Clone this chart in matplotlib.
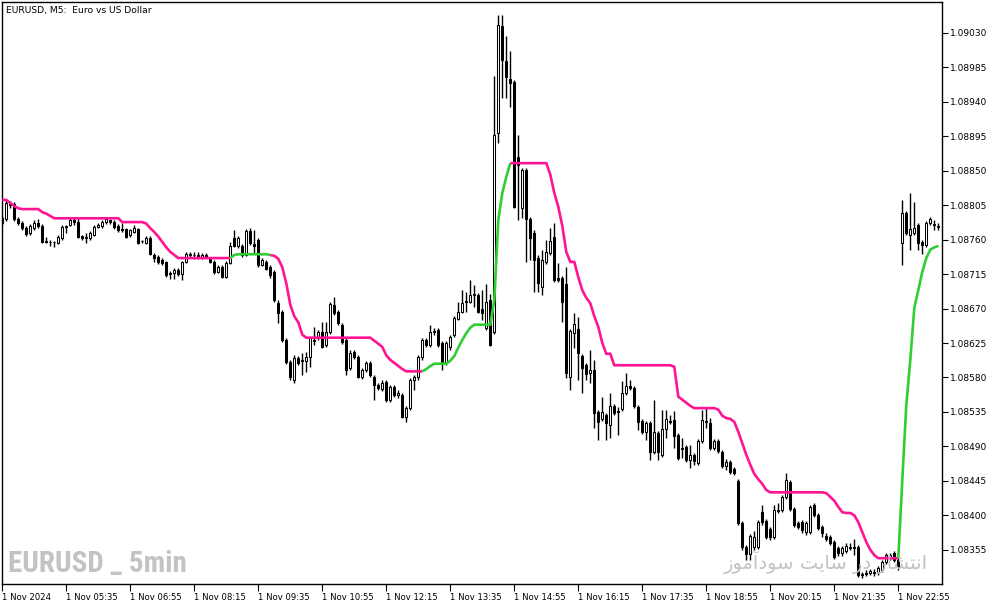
import matplotlib
matplotlib.use('Agg')
import matplotlib.pyplot as plt
import numpy as np

# ---------------- data ----------------
opens = [
1.08788, 1.08787, 1.08808, 1.08807, 1.08787, 1.08782, 1.08775, 1.08769, 1.08775, 1.08782,
1.08778, 1.08758, 1.08757, 1.08757, 1.08756, 1.08762, 1.08777, 1.08779, 1.08786, 1.08783,
1.08765, 1.08762, 1.08762, 1.08766, 1.08777, 1.08778, 1.08783, 1.08786, 1.08783, 1.08778,
1.08774, 1.08774, 1.08766, 1.08770, 1.08774, 1.08758, 1.08756, 1.08762, 1.08740, 1.08737,
1.08733, 1.08731, 1.08716, 1.08716, 1.08720, 1.08715, 1.08731, 1.08741, 1.08740, 1.08740,
1.08736, 1.08740, 1.08735, 1.08731, 1.08718, 1.08724, 1.08711, 1.08730, 1.08762, 1.08752,
1.08752, 1.08740, 1.08771, 1.08754, 1.08760, 1.08727, 1.08731, 1.08724, 1.08718, 1.08677,
1.08665, 1.08629, 1.08600, 1.08577, 1.08606, 1.08603, 1.08602, 1.08607, 1.08629, 1.08632,
1.08639, 1.08622, 1.08639, 1.08675, 1.08665, 1.08649, 1.08629, 1.08593, 1.08613, 1.08607,
1.08581, 1.08590, 1.08599, 1.08581, 1.08570, 1.08565, 1.08574, 1.08551, 1.08568, 1.08557,
1.08557, 1.08528, 1.08540, 1.08577, 1.08581, 1.08607, 1.08629, 1.08622, 1.08639, 1.08642,
1.08625, 1.08599, 1.08620, 1.08636, 1.08656, 1.08665, 1.08678, 1.08678, 1.08688, 1.08688,
1.08669, 1.08645, 1.08681, 1.08639, 1.08899, 1.09039, 1.08993, 1.08970, 1.08966, 1.08868,
1.08801, 1.08851, 1.08787, 1.08769, 1.08736, 1.08698, 1.08731, 1.08743, 1.08764, 1.08710,
1.08710, 1.08702, 1.08581, 1.08638, 1.08643, 1.08608, 1.08596, 1.08586, 1.08590, 1.08535,
1.08526, 1.08531, 1.08518, 1.08543, 1.08536, 1.08539, 1.08560, 1.08569, 1.08566, 1.08541,
1.08523, 1.08509, 1.08521, 1.08483, 1.08507, 1.08479, 1.08513, 1.08523, 1.08524, 1.08505,
1.08488, 1.08489, 1.08472, 1.08479, 1.08468, 1.08497, 1.08523, 1.08521, 1.08488, 1.08497,
1.08483, 1.08464, 1.08469, 1.08460, 1.08445, 1.08390, 1.08359, 1.08349, 1.08359, 1.08359,
1.08404, 1.08393, 1.08382, 1.08372, 1.08407, 1.08407, 1.08424, 1.08443, 1.08408, 1.08390,
1.08391, 1.08378, 1.08378, 1.08413, 1.08400, 1.08385, 1.08373, 1.08372, 1.08365, 1.08357,
1.08351, 1.08353, 1.08359, 1.08359, 1.08359, 1.08322, 1.08325, 1.08325, 1.08326, 1.08326,
1.08329, 1.08339, 1.08344, 1.08351, 1.08342, 1.08756, 1.08795, 1.08766, 1.08769, 1.08779,
1.08757, 1.08753, 1.08782, 1.08779, 1.08777,
]

highs = [
1.08791, 1.08812, 1.08811, 1.08809, 1.08790, 1.08784, 1.08778, 1.08781, 1.08786, 1.08787,
1.08781, 1.08764, 1.08760, 1.08758, 1.08766, 1.08779, 1.08779, 1.08788, 1.08790, 1.08790,
1.08766, 1.08769, 1.08771, 1.08779, 1.08782, 1.08786, 1.08788, 1.08787, 1.08786, 1.08781,
1.08782, 1.08775, 1.08774, 1.08779, 1.08775, 1.08760, 1.08765, 1.08765, 1.08743, 1.08740,
1.08736, 1.08732, 1.08719, 1.08723, 1.08723, 1.08732, 1.08744, 1.08744, 1.08744, 1.08744,
1.08743, 1.08743, 1.08737, 1.08733, 1.08727, 1.08727, 1.08732, 1.08757, 1.08773, 1.08765,
1.08754, 1.08774, 1.08775, 1.08773, 1.08762, 1.08736, 1.08733, 1.08727, 1.08720, 1.08681,
1.08668, 1.08632, 1.08603, 1.08609, 1.08608, 1.08612, 1.08613, 1.08633, 1.08646, 1.08642,
1.08652, 1.08652, 1.08678, 1.08685, 1.08668, 1.08651, 1.08632, 1.08616, 1.08616, 1.08609,
1.08593, 1.08602, 1.08602, 1.08583, 1.08573, 1.08577, 1.08577, 1.08570, 1.08570, 1.08564,
1.08560, 1.08543, 1.08579, 1.08583, 1.08609, 1.08632, 1.08632, 1.08649, 1.08645, 1.08645,
1.08628, 1.08628, 1.08636, 1.08660, 1.08678, 1.08694, 1.08692, 1.08707, 1.08701, 1.08690,
1.08694, 1.08702, 1.08689, 1.08974, 1.09053, 1.09053, 1.09026, 1.09006, 1.08969, 1.08897,
1.08854, 1.08854, 1.08790, 1.08773, 1.08740, 1.08747, 1.08760, 1.08775, 1.08782, 1.08730,
1.08713, 1.08724, 1.08643, 1.08664, 1.08659, 1.08611, 1.08599, 1.08616, 1.08603, 1.08538,
1.08555, 1.08534, 1.08560, 1.08545, 1.08541, 1.08576, 1.08586, 1.08577, 1.08569, 1.08544,
1.08526, 1.08523, 1.08523, 1.08551, 1.08510, 1.08538, 1.08538, 1.08531, 1.08536, 1.08507,
1.08501, 1.08492, 1.08492, 1.08481, 1.08500, 1.08538, 1.08540, 1.08527, 1.08500, 1.08500,
1.08485, 1.08473, 1.08472, 1.08463, 1.08447, 1.08393, 1.08361, 1.08376, 1.08380, 1.08394,
1.08413, 1.08395, 1.08385, 1.08413, 1.08416, 1.08427, 1.08455, 1.08446, 1.08411, 1.08393,
1.08394, 1.08393, 1.08413, 1.08416, 1.08403, 1.08387, 1.08377, 1.08374, 1.08368, 1.08360,
1.08360, 1.08364, 1.08364, 1.08369, 1.08361, 1.08326, 1.08329, 1.08330, 1.08330, 1.08334,
1.08342, 1.08351, 1.08351, 1.08353, 1.08344, 1.08812, 1.08797, 1.08821, 1.08809, 1.08782,
1.08760, 1.08784, 1.08790, 1.08786, 1.08782,
]

lows = [
1.08779, 1.08784, 1.08801, 1.08784, 1.08779, 1.08773, 1.08765, 1.08766, 1.08773, 1.08775,
1.08756, 1.08756, 1.08752, 1.08750, 1.08754, 1.08760, 1.08769, 1.08778, 1.08779, 1.08762,
1.08760, 1.08756, 1.08760, 1.08765, 1.08775, 1.08775, 1.08781, 1.08781, 1.08774, 1.08770,
1.08770, 1.08762, 1.08764, 1.08769, 1.08754, 1.08756, 1.08754, 1.08740, 1.08731, 1.08728,
1.08727, 1.08711, 1.08709, 1.08709, 1.08713, 1.08707, 1.08730, 1.08736, 1.08735, 1.08735,
1.08735, 1.08736, 1.08730, 1.08715, 1.08716, 1.08710, 1.08710, 1.08728, 1.08750, 1.08749,
1.08737, 1.08739, 1.08753, 1.08743, 1.08724, 1.08726, 1.08720, 1.08710, 1.08678, 1.08651,
1.08626, 1.08598, 1.08577, 1.08573, 1.08596, 1.08583, 1.08587, 1.08594, 1.08622, 1.08629,
1.08619, 1.08620, 1.08637, 1.08662, 1.08649, 1.08624, 1.08583, 1.08590, 1.08604, 1.08579,
1.08578, 1.08587, 1.08581, 1.08551, 1.08564, 1.08563, 1.08548, 1.08548, 1.08555, 1.08553,
1.08527, 1.08522, 1.08538, 1.08564, 1.08577, 1.08603, 1.08620, 1.08620, 1.08636, 1.08620,
1.08590, 1.08596, 1.08616, 1.08633, 1.08655, 1.08664, 1.08665, 1.08677, 1.08672, 1.08664,
1.08655, 1.08642, 1.08621, 1.08637, 1.08886, 1.08945, 1.08945, 1.08933, 1.08801, 1.08786,
1.08788, 1.08731, 1.08733, 1.08692, 1.08692, 1.08688, 1.08728, 1.08740, 1.08705, 1.08705,
1.08652, 1.08579, 1.08564, 1.08619, 1.08577, 1.08560, 1.08577, 1.08573, 1.08514, 1.08498,
1.08523, 1.08498, 1.08501, 1.08531, 1.08505, 1.08536, 1.08557, 1.08564, 1.08540, 1.08511,
1.08506, 1.08498, 1.08472, 1.08480, 1.08472, 1.08476, 1.08501, 1.08519, 1.08488, 1.08472,
1.08475, 1.08469, 1.08462, 1.08466, 1.08466, 1.08494, 1.08514, 1.08485, 1.08485, 1.08481,
1.08462, 1.08459, 1.08454, 1.08453, 1.08387, 1.08355, 1.08342, 1.08342, 1.08355, 1.08356,
1.08387, 1.08369, 1.08368, 1.08369, 1.08403, 1.08404, 1.08421, 1.08406, 1.08385, 1.08382,
1.08377, 1.08374, 1.08376, 1.08398, 1.08381, 1.08372, 1.08366, 1.08361, 1.08343, 1.08347,
1.08347, 1.08351, 1.08355, 1.08348, 1.08319, 1.08318, 1.08321, 1.08322, 1.08321, 1.08322,
1.08326, 1.08336, 1.08342, 1.08339, 1.08329, 1.08727, 1.08766, 1.08747, 1.08766, 1.08747,
1.08741, 1.08750, 1.08779, 1.08773, 1.08773,
]

closes = [
1.08782, 1.08808, 1.08805, 1.08787, 1.08782, 1.08775, 1.08767, 1.08778, 1.08782, 1.08778,
1.08757, 1.08757, 1.08757, 1.08757, 1.08764, 1.08777, 1.08778, 1.08786, 1.08783, 1.08764,
1.08762, 1.08764, 1.08769, 1.08777, 1.08779, 1.08783, 1.08787, 1.08783, 1.08777, 1.08773,
1.08773, 1.08764, 1.08773, 1.08775, 1.08756, 1.08758, 1.08762, 1.08741, 1.08736, 1.08731,
1.08730, 1.08714, 1.08715, 1.08720, 1.08715, 1.08731, 1.08741, 1.08740, 1.08740, 1.08737,
1.08740, 1.08737, 1.08731, 1.08718, 1.08724, 1.08711, 1.08730, 1.08752, 1.08752, 1.08762,
1.08740, 1.08771, 1.08756, 1.08752, 1.08727, 1.08733, 1.08722, 1.08714, 1.08681, 1.08664,
1.08629, 1.08600, 1.08581, 1.08606, 1.08599, 1.08602, 1.08607, 1.08632, 1.08628, 1.08639,
1.08620, 1.08639, 1.08676, 1.08664, 1.08651, 1.08626, 1.08590, 1.08612, 1.08607, 1.08581,
1.08590, 1.08599, 1.08583, 1.08570, 1.08566, 1.08573, 1.08551, 1.08568, 1.08557, 1.08560,
1.08528, 1.08540, 1.08577, 1.08581, 1.08607, 1.08629, 1.08622, 1.08639, 1.08641, 1.08622,
1.08599, 1.08625, 1.08633, 1.08658, 1.08665, 1.08677, 1.08680, 1.08688, 1.08689, 1.08665,
1.08664, 1.08678, 1.08622, 1.08897, 1.09040, 1.08995, 1.08972, 1.08965, 1.08803, 1.08858,
1.08851, 1.08787, 1.08762, 1.08733, 1.08703, 1.08733, 1.08744, 1.08758, 1.08707, 1.08707,
1.08678, 1.08586, 1.08641, 1.08650, 1.08612, 1.08593, 1.08585, 1.08590, 1.08534, 1.08522,
1.08535, 1.08521, 1.08543, 1.08534, 1.08535, 1.08560, 1.08569, 1.08566, 1.08543, 1.08522,
1.08509, 1.08521, 1.08483, 1.08509, 1.08483, 1.08513, 1.08526, 1.08522, 1.08504, 1.08475,
1.08487, 1.08472, 1.08479, 1.08471, 1.08497, 1.08524, 1.08522, 1.08488, 1.08497, 1.08484,
1.08464, 1.08469, 1.08456, 1.08455, 1.08390, 1.08359, 1.08349, 1.08373, 1.08372, 1.08391,
1.08391, 1.08372, 1.08372, 1.08407, 1.08406, 1.08424, 1.08446, 1.08408, 1.08387, 1.08385,
1.08381, 1.08390, 1.08411, 1.08400, 1.08383, 1.08377, 1.08369, 1.08364, 1.08345, 1.08351,
1.08357, 1.08360, 1.08357, 1.08357, 1.08322, 1.08323, 1.08323, 1.08327, 1.08325, 1.08331,
1.08339, 1.08348, 1.08348, 1.08342, 1.08332, 1.08795, 1.08769, 1.08774, 1.08775, 1.08756,
1.08753, 1.08782, 1.08787, 1.08781, 1.08778,
]

# trailing indicator line (one value per bar)
trail = [
1.08812, 1.08812, 1.08808, 1.08804, 1.08801, 1.08800, 1.08800, 1.08800, 1.08800, 1.08800,
1.08796, 1.08794, 1.08791, 1.08788, 1.08788, 1.08788, 1.08788, 1.08788, 1.08788, 1.08788,
1.08788, 1.08788, 1.08788, 1.08788, 1.08788, 1.08788, 1.08788, 1.08788, 1.08788, 1.08788,
1.08783, 1.08783, 1.08783, 1.08783, 1.08783, 1.08783, 1.08781, 1.08775, 1.08770, 1.08764,
1.08757, 1.08750, 1.08744, 1.08740, 1.08736, 1.08736, 1.08736, 1.08736, 1.08736, 1.08736,
1.08736, 1.08736, 1.08736, 1.08736, 1.08736, 1.08736, 1.08736, 1.08736, 1.08740, 1.08741,
1.08741, 1.08741, 1.08741, 1.08741, 1.08741, 1.08741, 1.08741, 1.08740, 1.08739, 1.08735,
1.08724, 1.08703, 1.08675, 1.08660, 1.08652, 1.08636, 1.08632, 1.08632, 1.08632, 1.08632,
1.08632, 1.08632, 1.08632, 1.08632, 1.08632, 1.08632, 1.08632, 1.08632, 1.08632, 1.08632,
1.08632, 1.08632, 1.08632, 1.08628, 1.08624, 1.08620, 1.08609, 1.08603, 1.08599, 1.08595,
1.08591, 1.08588, 1.08588, 1.08588, 1.08588, 1.08588, 1.08591, 1.08595, 1.08598, 1.08598,
1.08598, 1.08598, 1.08602, 1.08608, 1.08619, 1.08629, 1.08638, 1.08645, 1.08649, 1.08649,
1.08649, 1.08649, 1.08649, 1.08681, 1.08786, 1.08821, 1.08842, 1.08860, 1.08860, 1.08860,
1.08860, 1.08860, 1.08860, 1.08860, 1.08860, 1.08860, 1.08860, 1.08845, 1.08821, 1.08803,
1.08778, 1.08744, 1.08731, 1.08731, 1.08711, 1.08694, 1.08684, 1.08677, 1.08660, 1.08646,
1.08625, 1.08611, 1.08611, 1.08596, 1.08596, 1.08596, 1.08596, 1.08596, 1.08596, 1.08596,
1.08596, 1.08596, 1.08596, 1.08596, 1.08596, 1.08596, 1.08596, 1.08596, 1.08594, 1.08555,
1.08551, 1.08547, 1.08543, 1.08540, 1.08540, 1.08540, 1.08540, 1.08540, 1.08540, 1.08538,
1.08530, 1.08527, 1.08526, 1.08522, 1.08509, 1.08494, 1.08479, 1.08466, 1.08454, 1.08447,
1.08441, 1.08433, 1.08430, 1.08430, 1.08430, 1.08430, 1.08430, 1.08430, 1.08430, 1.08430,
1.08430, 1.08430, 1.08430, 1.08430, 1.08430, 1.08430, 1.08429, 1.08424, 1.08419, 1.08411,
1.08404, 1.08403, 1.08403, 1.08400, 1.08391, 1.08378, 1.08365, 1.08355, 1.08348, 1.08344,
1.08344, 1.08344, 1.08344, 1.08344, 1.08344, 1.08446, 1.08544, 1.08603, 1.08671, 1.08694,
1.08718, 1.08736, 1.08747, 1.08750, 1.08752,
]

# bar ranges (inclusive) where the indicator is in up-trend (green)
uptrend_ranges = [(58, 67), (106, 127), (225, 234)]

x_tick_bars = [0, 16, 32, 48, 64, 80, 96, 112, 128, 144, 160, 176, 192, 208, 224]
x_tick_labels = ["1 Nov 2024", "1 Nov 05:35", "1 Nov 06:55", "1 Nov 08:15", "1 Nov 09:35",
                 "1 Nov 10:55", "1 Nov 12:15", "1 Nov 13:35", "1 Nov 14:55", "1 Nov 16:15",
                 "1 Nov 17:35", "1 Nov 18:55", "1 Nov 20:15", "1 Nov 21:35", "1 Nov 22:55"]
y_ticks = [1.09030, 1.08985, 1.08940, 1.08895, 1.08850, 1.08805, 1.08760, 1.08715,
           1.08670, 1.08625, 1.08580, 1.08535, 1.08490, 1.08445, 1.08400, 1.08355]

title_text = "EURUSD, M5:  Euro vs US Dollar"
wm_left = "EURUSD _ 5min"
# "انتشار در سایت سودآموز" written with Arabic presentation forms in display order
wm_right = "\uFEAF\uFEEE\uFEE3\uFE81\uFEA9\uFEEE\uFEB3 \uFE96\uFEF3\uFE8E\uFEB3 \uFEAD\uFEA9 \uFEAD\uFE8E\uFEB8\uFE98\uFEE7\uFE8D"

# ---------------- figure ----------------
W, H = 994, 605
fig = plt.figure(figsize=(W / 100, H / 100), dpi=100)
fig.patch.set_facecolor('white')

ax_l, ax_r, ax_t, ax_b = 1.5, 941.7, 2.0, 583.5
ax = fig.add_axes([ax_l / W, 1 - ax_b / H, (ax_r - ax_l) / W, (ax_b - ax_t) / H])

o = np.array(opens); h = np.array(highs); l = np.array(lows); c = np.array(closes)
t = np.array(trail)
n = len(c)
xs = np.arange(n)

# candle x pixel = 2.3 + 4*i
ax.set_xlim((ax_l - 2.3) / 4.0, (ax_r - 2.3) / 4.0)
ppx = 0.00045 / 34.45
ax.set_ylim(1.09030 - (ax_b - 33) * ppx, 1.09030 + (33 - ax_t) * ppx)

# watermarks (behind)
fig.text(8 / W, 1 - 564 / H, wm_left, color='#c3c3c3', fontsize=21, fontweight='bold',
         family=['Roboto Condensed', 'Roboto'], fontstretch='condensed',
         ha='left', va='center', zorder=0)
fig.text(826 / W, 1 - 562 / H, wm_right, color='#c3c3c3', fontsize=14,
         family=['DejaVu Sans'], ha='center', va='center', zorder=0)
ax.set_facecolor('none')

# candles
up = c >= o
ax.vlines(xs, l, h, color='black', lw=1.0, zorder=2)
ax.bar(xs, np.abs(c - o), bottom=np.minimum(o, c), width=0.5,
       color=np.where(up, 'white', 'black'), edgecolor='black', linewidth=0.75, zorder=3)

# indicator line
is_up = np.zeros(n, dtype=bool)
for a, b in uptrend_ranges:
    is_up[a:b + 1] = True
seg_up = is_up[1:]
start = 0
for i in range(1, n):
    if i == n - 1 or seg_up[i] != seg_up[start]:
        end = i if i < n - 1 else n - 1
        col = '#32cd32' if seg_up[start] else '#ff1493'
        ax.plot(xs[start:end + 1], t[start:end + 1], color=col, lw=1.9,
                solid_capstyle='butt', solid_joinstyle='miter', zorder=4)
        start = i

# axes styling
for s in ax.spines.values():
    s.set_color('black'); s.set_linewidth(1.0)
ax.yaxis.tick_right()
ax.set_yticks(y_ticks)
ax.set_yticklabels([f"{v:.5f}" for v in y_ticks])
ax.tick_params(axis='y', direction='out', length=4, width=0.8, pad=2, labelsize=6.5, colors='black')
ax.set_xticks(x_tick_bars)
ax.set_xticklabels(x_tick_labels, ha='left')
ax.tick_params(axis='x', direction='out', length=5, width=0.8, pad=1.5, labelsize=6.1, colors='black')
for lab in ax.get_xticklabels():
    lab.set_horizontalalignment('left')

fig.text(6 / W, 1 - 11 / H, title_text, fontsize=6.6, ha='left', va='center', color='black')

fig.savefig('out.png', dpi=100, facecolor='white')
